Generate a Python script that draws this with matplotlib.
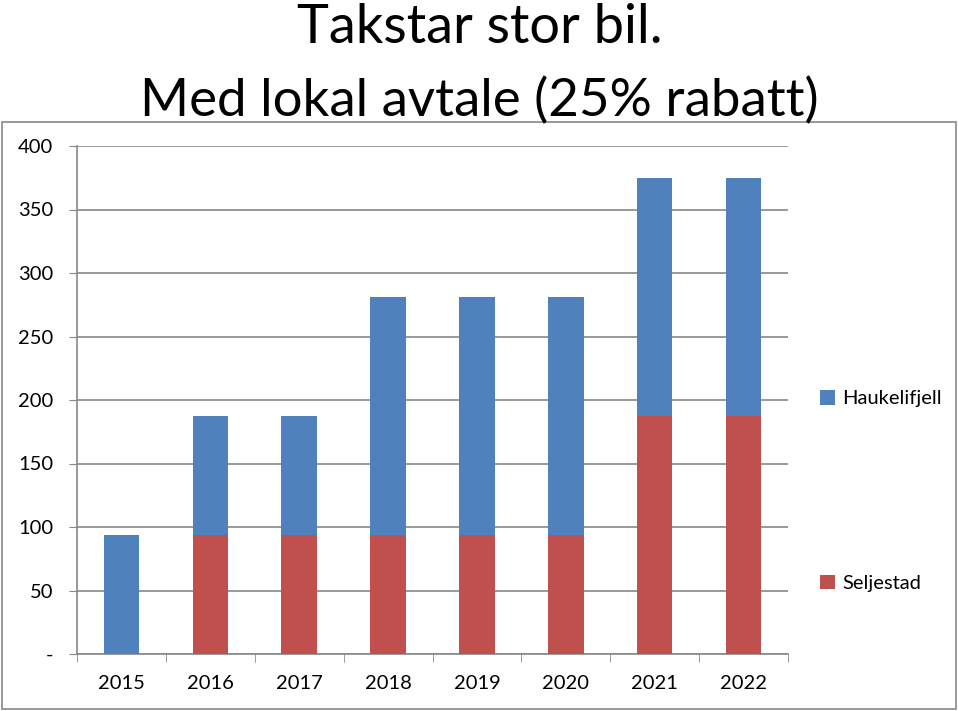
import matplotlib
matplotlib.use("Agg")
import matplotlib.pyplot as plt
from matplotlib.patches import Rectangle
import numpy as np

years = ["2015", "2016", "2017", "2018", "2019", "2020", "2021", "2022"]
seljestad = [0, 93.75, 93.75, 93.75, 93.75, 93.75, 187.5, 187.5]
haukelifjell = [93.75, 93.75, 93.75, 187.5, 187.5, 187.5, 187.5, 187.5]
yticks = [0, 50, 100, 150, 200, 250, 300, 350, 400]
yticklabels = ["-", "50", "100", "150", "200", "250", "300", "350", "400"]

plt.rcParams['font.family'] = ['Lato', 'DejaVu Sans']

W, H = 959, 711
fig = plt.figure(figsize=(W / 100, H / 100), dpi=100)
fig.patch.set_facecolor("white")

# outer chart border
fig.add_artist(Rectangle((2 / W, 1 - 709 / H), 954 / W, (709 - 122) / H,
                         transform=fig.transFigure, fill=False,
                         edgecolor="#888888", linewidth=1.2, zorder=0))

ax = fig.add_axes([77 / W, 1 - 654 / H, (788 - 77) / W, (654 - 146) / H])
x = np.arange(len(years))
red = "#c0504d"
blue = "#4f81bd"
b1 = ax.bar(x, seljestad, width=0.4, color=red, label="Seljestad", zorder=3)
b2 = ax.bar(x, haukelifjell, width=0.4, bottom=seljestad, color=blue,
            label="Haukelifjell", zorder=3)

ax.set_xlim(-0.5, len(years) - 0.5)
ax.set_ylim(0, 400)
ax.set_yticks(yticks)
ax.set_yticklabels(yticklabels, fontsize=14.5)
ax.set_xticks(x)
ax.set_xticklabels(years, fontsize=14.5)
ax.tick_params(axis="x", length=0, pad=15)
ax.set_xticks(np.arange(-0.5, len(years), 1), minor=True)
ax.tick_params(axis="x", which="minor", length=6, color="#888888", direction="out")
ax.tick_params(axis="y", length=6, color="#888888", direction="out", pad=11)

ax.grid(axis="y", color="#888888", linewidth=1.2, zorder=0)
for s in ["top", "right"]:
    ax.spines[s].set_visible(False)
for s in ["left", "bottom"]:
    ax.spines[s].set_color("#888888")
    ax.spines[s].set_linewidth(1.2)
ax.set_axisbelow(True)

leg = ax.legend(handles=[b2, b1], labels=["Haukelifjell", "Seljestad"],
                loc="upper left", bbox_to_anchor=(820 / W, 1 - 390 / H),
                bbox_transform=fig.transFigure, frameon=False, fontsize=14.5,
                handlelength=0.75, handleheight=0.75, handletextpad=0.35,
                labelspacing=8.3, borderaxespad=0, borderpad=0)

fig.text(0.5, 1 - 43 / H, "Takstar stor bil.", ha="center", va="baseline",
         fontsize=39)
fig.text(0.5, 1 - 116 / H, "Med lokal avtale (25% rabatt)", ha="center",
         va="baseline", fontsize=38)

fig.savefig("out.png", dpi=100)
